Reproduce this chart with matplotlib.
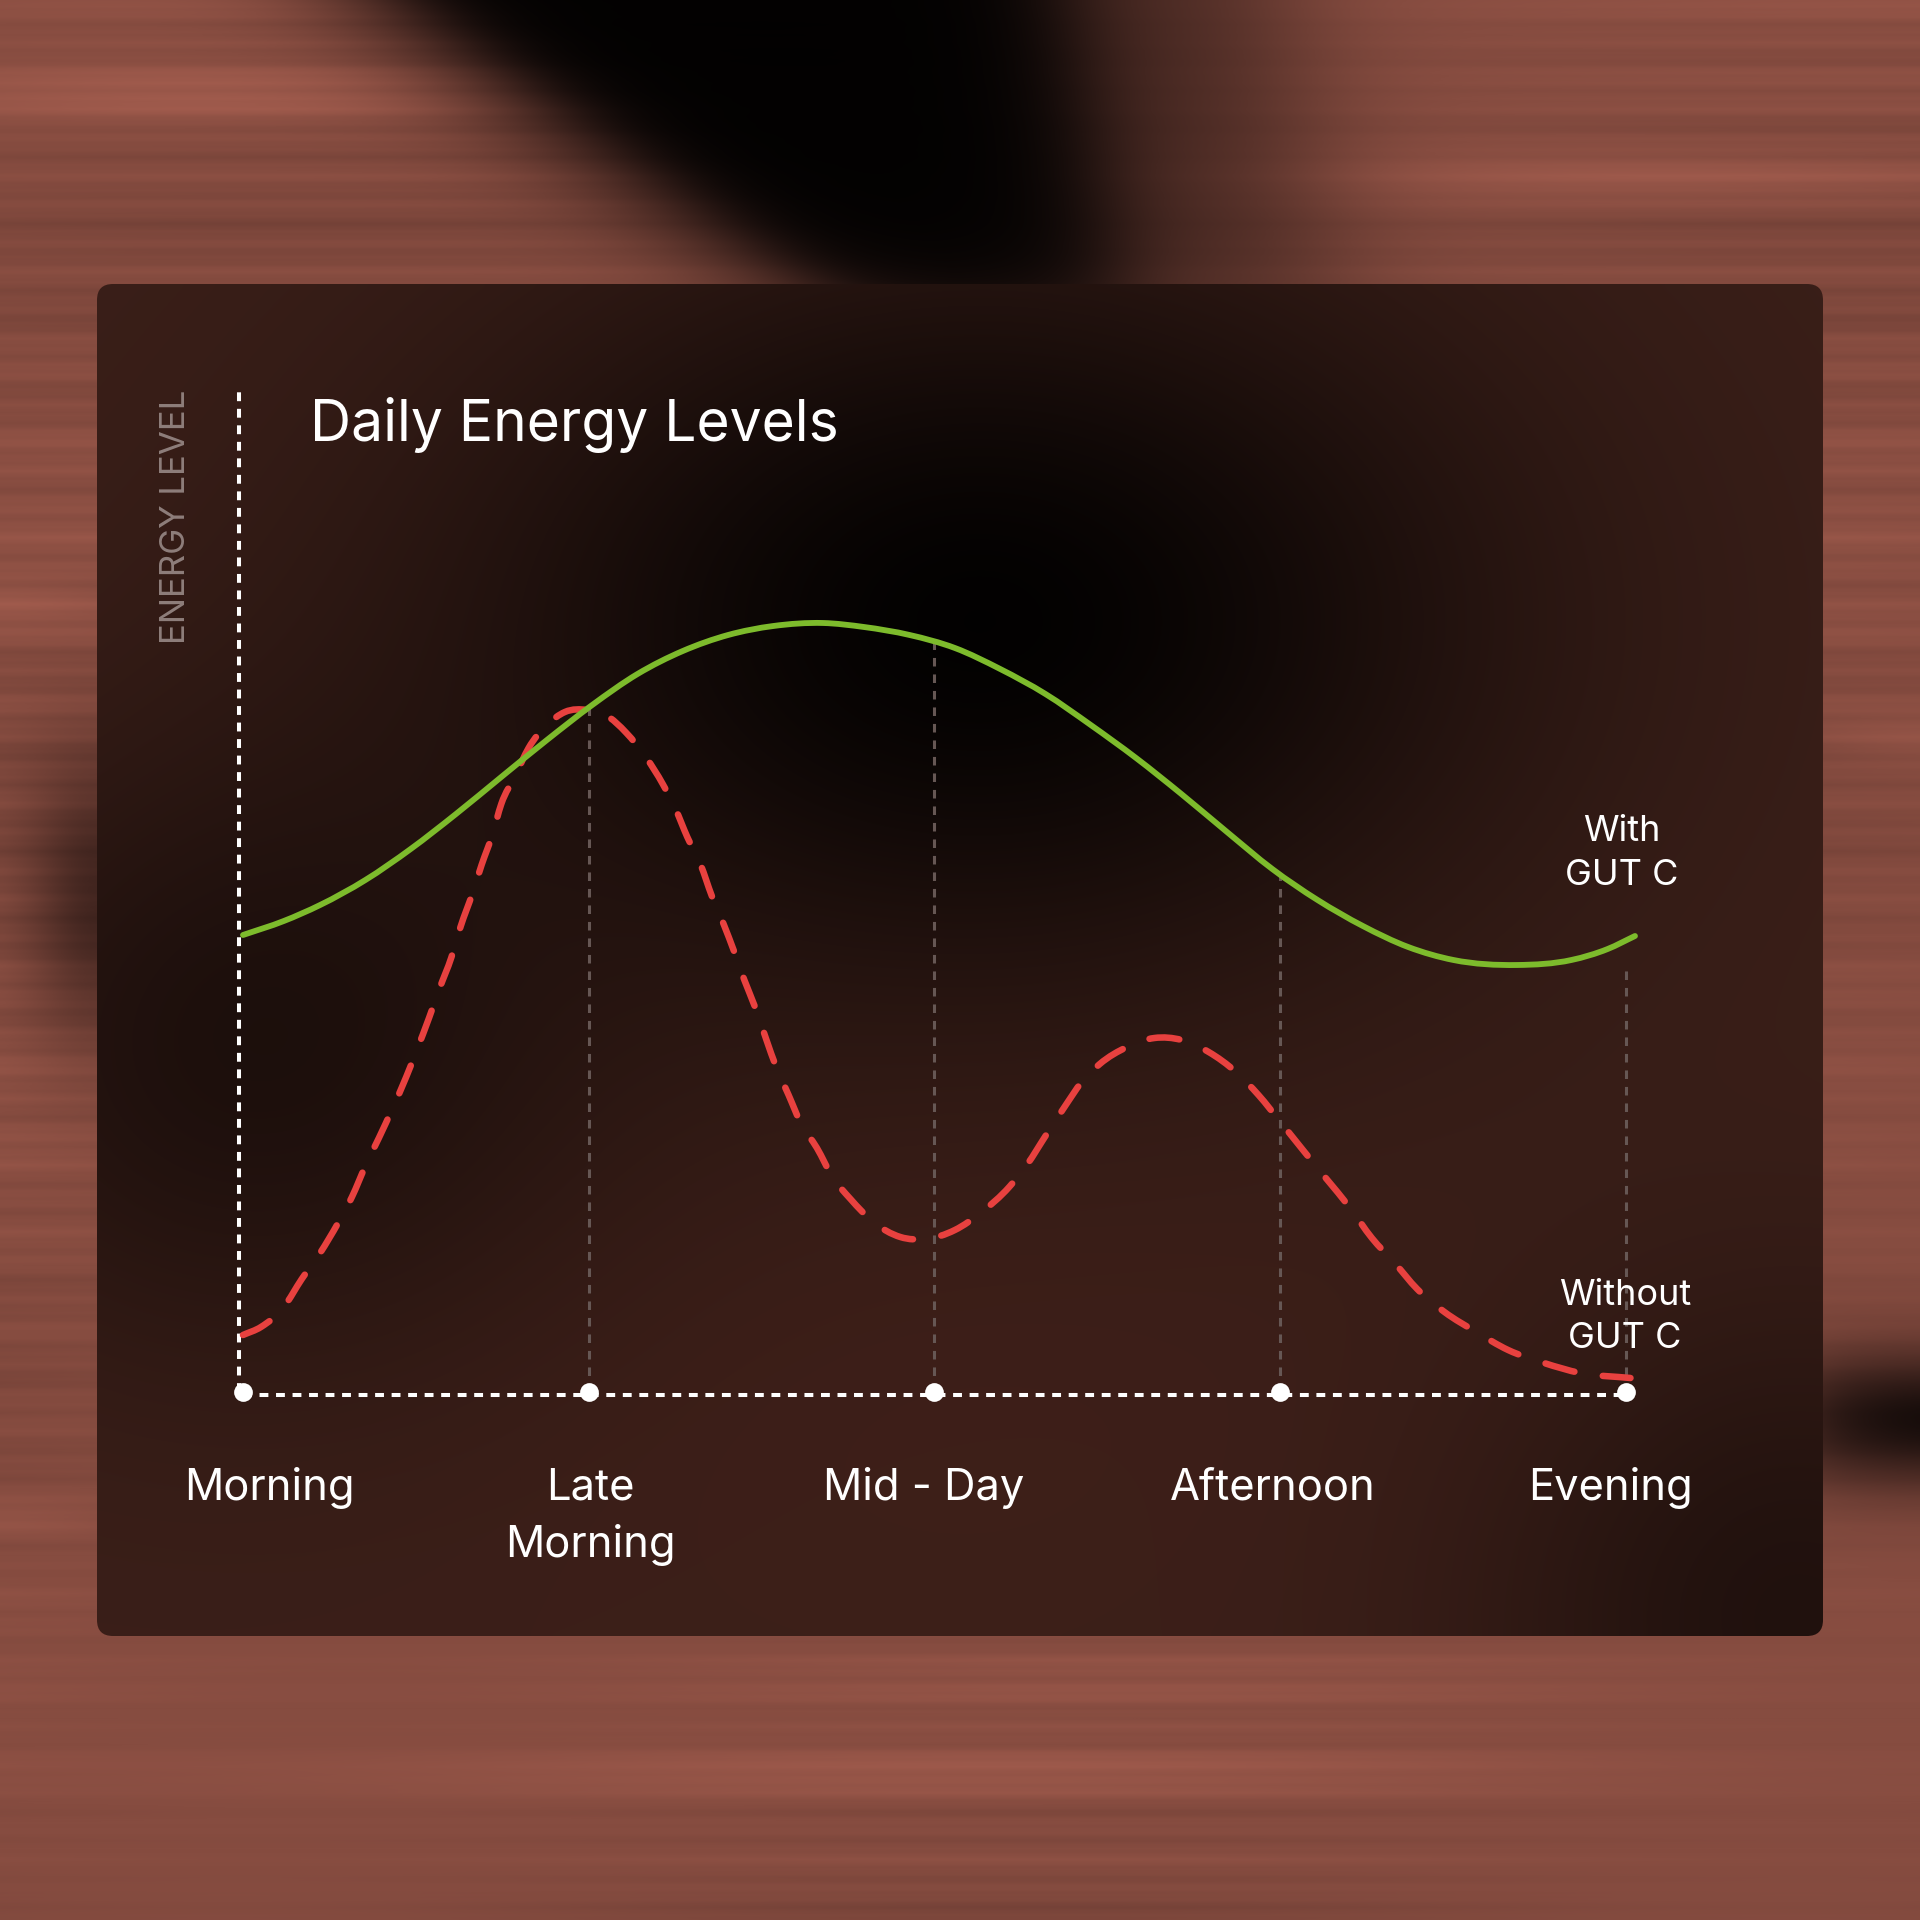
import numpy as np
import matplotlib
matplotlib.use("Agg")
import matplotlib.pyplot as plt
from matplotlib.patches import FancyBboxPatch, PathPatch
from matplotlib.path import Path

# ---------------- data ----------------
times = ["Morning", "Late\nMorning", "Mid - Day", "Afternoon", "Evening"]
time_pos = [0, 1, 2, 3, 4]

with_x = [0.000, 0.118, 0.223, 0.354, 0.485, 0.616, 0.747, 0.879, 1.010, 1.141,
          1.272, 1.403, 1.534, 1.678, 1.796, 1.928, 2.059, 2.190, 2.321, 2.452,
          2.583, 2.714, 2.846, 2.977, 3.108, 3.239, 3.370, 3.501, 3.685, 3.842,
          3.947, 4.026]
with_y = [45.7, 47.1, 48.7, 51.2, 54.3, 57.8, 61.5, 65.2, 68.7, 71.8,
          74.1, 75.7, 76.6, 76.9, 76.5, 75.7, 74.4, 72.3, 69.8, 66.7,
          63.4, 59.8, 56.0, 52.3, 49.2, 46.6, 44.5, 43.2, 42.7, 43.2,
          44.3, 45.6]

without_x = [0.000, 0.052, 0.118, 0.170, 0.223, 0.275, 0.315, 0.354, 0.393, 0.433,
             0.472, 0.504, 0.538, 0.569, 0.603, 0.629, 0.664, 0.690, 0.721, 0.747,
             0.787, 0.826, 0.879, 0.931, 0.997, 1.049, 1.109, 1.167, 1.214, 1.251,
             1.285, 1.324, 1.356, 1.390, 1.421, 1.450, 1.482, 1.513, 1.542, 1.578,
             1.613, 1.660, 1.705, 1.757, 1.823, 1.901, 1.975, 2.059, 2.137, 2.216,
             2.269, 2.321, 2.374, 2.426, 2.478, 2.557, 2.636, 2.715, 2.793, 2.872,
             2.937, 3.003, 3.068, 3.134, 3.200, 3.265, 3.331, 3.396, 3.475, 3.567,
             3.659, 3.763, 3.868, 4.013]
without_y = [5.7, 6.5, 8.5, 11.3, 13.9, 16.9, 19.5, 22.6, 25.4, 28.4,
             31.5, 34.3, 37.4, 40.4, 43.5, 46.5, 49.9, 52.7, 55.7, 58.8,
             61.6, 64.4, 66.7, 68.0, 68.2, 67.7, 65.9, 63.4, 60.8, 58.3,
             55.5, 52.7, 49.6, 46.8, 44.0, 41.2, 38.4, 35.3, 32.5, 29.7,
             26.9, 24.4, 21.5, 19.3, 17.0, 15.5, 15.3, 16.2, 18.0, 20.5,
             22.8, 25.6, 28.4, 31.0, 32.8, 34.5, 35.4, 35.2, 34.0, 32.0,
             29.7, 26.9, 24.1, 21.3, 18.5, 15.4, 12.9, 10.3, 8.0, 6.0,
             4.2, 2.9, 1.9, 1.4]

title = "Daily Energy Levels"
y_label = "ENERGY LEVEL"
with_label = "With\nGUT C"
without_label = "Without\nGUT C"

# ---------------- figure ----------------
W = H = 1920
DPI = 100
FONT = ["Inter", "DejaVu Sans"]
fig = plt.figure(figsize=(W / DPI, H / DPI), dpi=DPI)

bg = fig.add_axes([0, 0, 1, 1])
bg.set_xlim(0, W)
bg.set_ylim(H, 0)
bg.axis("off")

# ---- blurred photographic backdrop (decorative) ----
ny, nx = 960, 480
yy = np.linspace(0, H, ny)[:, None]
xx = np.linspace(0, W, nx)[None, :]
base = np.array([134, 76, 64]) / 255.0
streak = (0.035 * np.sin(yy * 0.19) + 0.03 * np.sin(yy * 0.071 + 1.3)
          + 0.02 * np.sin(yy * 0.47 + 0.4) + 0.05 * np.sin(yy * 0.011 + 2.0)
          + 0.015 * np.sin(yy * 1.23 + 0.7))
streak = streak * (0.6 + 0.4 * np.sin(xx * 0.004 + yy * 0.002))
light = (0.16 * np.exp(-((yy - 95) / 35) ** 2) * np.exp(-((xx - 200) / 380) ** 2)
         + 0.14 * np.exp(-((yy - 175) / 30) ** 2) * np.exp(-((xx - 1650) / 420) ** 2)
         + 0.10 * np.exp(-((yy - 1775) / 25) ** 2) * np.exp(-((xx - 900) / 700) ** 2)
         + 0.10 * np.exp(-((yy - 600) / 25) ** 2) * np.exp(-((xx) / 120) ** 2)
         + 0.10 * np.exp(-((yy - 740) / 25) ** 2) * np.exp(-((xx - 1920) / 120) ** 2)
         + 0.08 * np.exp(-((yy - 1520) / 20) ** 2) * np.exp(-((xx) / 120) ** 2))
shade = 1.0 + streak + light
img = base[None, None, :] * shade[..., None]
# dark shape at top centre
t = np.clip(yy / 290.0, 0, 1.6)
cx = 740 + 230 * t
hw = 330 - 180 * t
core = 1.0 / (1.0 + np.exp((np.abs(xx - cx) - hw) / 35.0))
fringe = 1.0 / (1.0 + np.exp((np.abs(xx - (cx + 60)) - (hw + 150)) / 50.0))
vfade = 1.0 / (1.0 + np.exp((yy - 330) / 30.0))
img *= (1 - 0.96 * core * vfade)[..., None]
img *= (1 - 0.45 * fringe * vfade)[..., None]
# dark band right edge
d2 = np.exp(-((yy - 1420) / 70) ** 2) / (1.0 + np.exp(-(xx - 1790) / 40.0))
img *= (1 - 0.85 * d2)[..., None]
# shadow left of panel
d3 = np.exp(-((yy - 900) / 140) ** 2) * np.exp(-((xx - 97) / 70) ** 2)
img *= (1 - 0.5 * d3)[..., None]
img = np.clip(img, 0, 1)
bg.imshow(img, extent=(0, W, H, 0), interpolation="bicubic", aspect="auto", zorder=0)

# ---- panel ----
px0, py0, px1, py1 = 97, 284, 1823, 1636
pny, pnx = 270, 345
PY = np.linspace(py0, py1, pny)[:, None]
PX = np.linspace(px0, px1, pnx)[None, :]
pbase = np.array([64, 34, 27]) / 255.0
g1 = np.exp(-(((PX - 980) / 520) ** 2 + ((PY - 620) / 370) ** 2))
g2 = np.exp(-(((PX - 250) / 360) ** 2 + ((PY - 1050) / 320) ** 2))
g3 = np.exp(-(((PX - 950) / 520) ** 2 + ((PY - 1400) / 260) ** 2))
g4 = np.exp(-(((PX - 1800) / 320) ** 2 + ((PY - 1620) / 320) ** 2))
fac = (1 - 0.95 * g1) * (1 - 0.5 * g2) * (1 - 0.45 * g4) * 0.92
pimg = pbase[None, None, :] * fac[..., None]
pimg = pimg + g3[..., None] * np.array([0.012, 0.0, 0.0])
pimg = np.clip(pimg, 0, 1)
panel = FancyBboxPatch((px0, py0), px1 - px0, py1 - py0,
                       boxstyle="round,pad=0,rounding_size=16",
                       transform=bg.transData, facecolor="none", edgecolor="none")
bg.add_patch(panel)
pim = bg.imshow(pimg, extent=(px0, px1, py1, py0), interpolation="bicubic",
                aspect="auto", zorder=1)
pim.set_clip_path(panel)

# ---------------- chart axes ----------------
xmin, xmax = -0.3, 4.3
ymin, ymax = -10, 110
x0px, x4px = 243, 1626
ppx = (x4px - x0px) / 4.0
y0px, y100px = 1392, 392
ppy = (y0px - y100px) / 100.0
left_px = x0px + xmin * ppx
right_px = x0px + xmax * ppx
bot_px = y0px - ymin * ppy
top_px = y0px - ymax * ppy
ax = fig.add_axes([left_px / W, 1 - bot_px / H, (right_px - left_px) / W,
                   (bot_px - top_px) / H])
ax.set_xlim(xmin, xmax)
ax.set_ylim(ymin, ymax)
ax.axis("off")


def smooth_path(xs, ys):
    """Cubic Hermite (Bezier) path that passes through every data point."""
    x = np.asarray(xs, float)
    y = np.asarray(ys, float)
    h = np.diff(x)
    s = np.diff(y) / h
    m = np.empty_like(y)
    m[0], m[-1] = s[0], s[-1]
    m[1:-1] = (s[:-1] * h[1:] + s[1:] * h[:-1]) / (h[:-1] + h[1:])
    verts = [(x[0], y[0])]
    codes = [Path.MOVETO]
    for i in range(len(x) - 1):
        verts += [(x[i] + h[i] / 3, y[i] + m[i] * h[i] / 3),
                  (x[i + 1] - h[i] / 3, y[i + 1] - m[i + 1] * h[i] / 3),
                  (x[i + 1], y[i + 1])]
        codes += [Path.CURVE4] * 3
    return Path(verts, codes)


# axis lines (dotted white)
ax.plot([-0.012, -0.012], [0, 100], color="white", lw=2.9, dashes=(2.2, 1.9),
        dash_capstyle="butt", zorder=2)
ax.plot([0, 4], [-0.25, -0.25], color="white", lw=2.9, dashes=(2.2, 1.9),
        dash_capstyle="butt", zorder=2)

# vertical guide lines up to the green curve
for xi in time_pos[1:]:
    top = np.interp(xi, with_x, with_y)
    if xi == time_pos[-1]:
        top -= 3
    ax.plot([xi, xi], [0, top], color=(0.40, 0.34, 0.33), lw=2.2,
            dashes=(2.8, 2.6), zorder=2)

# curves
red = PathPatch(smooth_path(without_x, without_y), fill=False, edgecolor="#e8413f",
                lw=4.7, linestyle=(0, (4.6, 4.4)), capstyle="round",
                joinstyle="round", zorder=3)
ax.add_patch(red)
green = PathPatch(smooth_path(with_x, with_y), fill=False, edgecolor="#7dbb2c",
                  lw=4.2, capstyle="round", joinstyle="round", zorder=4)
ax.add_patch(green)

# points on the time axis
ax.plot(time_pos, [0] * len(time_pos), "o", ms=13.5, color="white", mew=0, zorder=5)


def ptext(xp, yp, s, **kw):
    return fig.text(xp / W, 1 - yp / H, s, family=FONT, **kw)


# title
ptext(310, 441, title, fontsize=41, color="white", ha="left", va="baseline")
# y label
ptext(176, 517, y_label, fontsize=25, color="#8e7e7b", rotation=90,
      ha="center", va="center")

# x labels
label_dx = [26, 2, -11, -7, -16]
for xi, lab, dx in zip(time_pos, times, label_dx):
    xp = x0px + xi * ppx + dx
    for k, line in enumerate(lab.split("\n")):
        ptext(xp, 1500 + 57 * k, line, fontsize=31.3, color="white",
              ha="center", va="baseline")

# series labels
for k, line in enumerate(with_label.split("\n")):
    ptext(1622, 841 + 44 * k, line, fontsize=26, color="white", ha="center", va="baseline")
for k, line in enumerate(without_label.split("\n")):
    ptext(1625, 1305 + 43 * k, line, fontsize=26, color="white", ha="center", va="baseline")

fig.savefig("out.png", dpi=DPI)
